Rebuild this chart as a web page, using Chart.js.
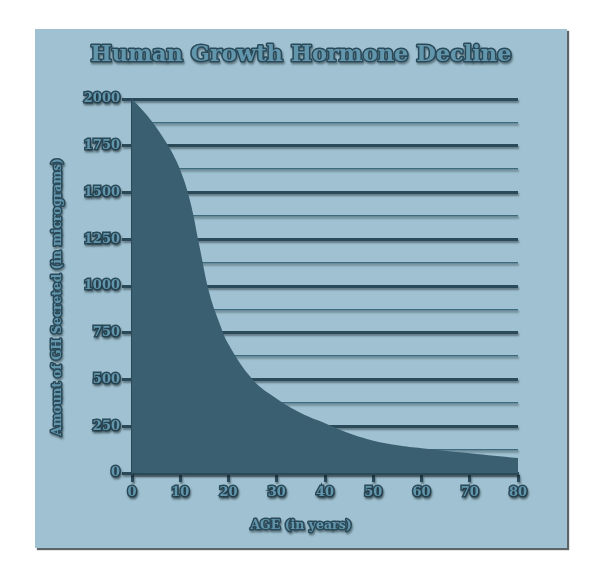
<!DOCTYPE html>
<html>
<head>
<meta charset="utf-8">
<script src="https://cdn.jsdelivr.net/npm/chart.js@4.4.0/dist/chart.umd.min.js"></script>
<style>
  html, body { margin: 0; padding: 0; background: #fff; }
  .panel {
    position: absolute; left: 35px; top: 29px;
    width: 532px; height: 519px;
    background: #9fc1d1;
    box-shadow: 2px 2px 1px #5c6468;
  }
  .panel canvas { display: block; }
</style>
</head>
<body>
<div class="panel"><canvas id="chart" width="532" height="519"></canvas></div>
<script>
// values
const chartTitle = 'Human Growth Hormone Decline';
const xTitle = 'AGE (in years)';
const yTitle = 'Amount of GH Secreted (in micrograms)';
const ages = [0, 2, 4, 6, 8, 10, 12, 14, 16, 18, 20, 25, 30, 35, 40, 45, 50, 55, 60, 70, 80];
const ghValues = [2000, 1945, 1884, 1812, 1728, 1620, 1458, 1210, 965, 810, 688, 500, 397, 321, 266, 212, 173, 149, 133, 106, 80];
const xTicks = [0, 80, 10];       // min, max, step
const yTicks = [0, 2000, 125];    // min, max, step (labels every 250)

const dark = '#2b4a59';
const thin = '#3d6a7d';
const fillCol = '#3a5f71';
const textCol = '#6296ad';
const shadow = 'rgba(20,30,35,0.45)';

function setShadow(ctx, on) {
    ctx.shadowColor = on ? shadow : 'transparent';
    ctx.shadowOffsetX = on ? 1 : 0;
    ctx.shadowOffsetY = on ? 2 : 0;
    ctx.shadowBlur = on ? 2 : 0;
}

function embossText(ctx, text, x, y, size, rot) {
    ctx.save();
    ctx.translate(x, y);
    if (rot) ctx.rotate(rot);
    ctx.font = `bold ${size}px "DejaVu Serif"`;
    ctx.textAlign = 'center';
    ctx.textBaseline = 'middle';
    ctx.lineJoin = 'round';
    setShadow(ctx, true);
    ctx.lineWidth = 3;
    ctx.strokeStyle = dark;
    ctx.strokeText(text, 0, 0);
    setShadow(ctx, false);
    ctx.fillStyle = textCol;
    ctx.fillText(text, 0, 0);
    ctx.restore();
}

const embossPlugin = {
    id: 'emboss',
    beforeDraw: (chart) => {
        chart.ctx.save();
        setShadow(chart.ctx, true);
    },
    beforeDatasetsDraw: (chart) => { setShadow(chart.ctx, false); },
    afterDatasetsDraw: (chart) => { setShadow(chart.ctx, true); },
    afterDraw: (chart) => {
        const ctx = chart.ctx;
        ctx.restore();
        embossText(ctx, chartTitle, 266, 26, 22.5, 0);
        embossText(ctx, yTitle, 23, 268, 12.2, -Math.PI / 2);
        embossText(ctx, xTitle, 266, 497, 12.5, 0);
    }
};

const points = ages.map((a, i) => ({ x: a, y: ghValues[i] }));
const isMajor = (v) => v % 250 === 0;

const ctx = document.getElementById('chart').getContext('2d');
new Chart(ctx, {
    type: 'line',
    data: {
        datasets: [{
            data: points,
            fill: 'origin',
            backgroundColor: fillCol,
            borderWidth: 0,
            pointRadius: 0,
            tension: 0.4
        }]
    },
    options: {
        responsive: false,
        animation: false,
        layout: { padding: { top: 70, right: 49, left: 0, bottom: 0 } },
        plugins: { legend: { display: false }, tooltip: { enabled: false } },
        scales: {
            x: {
                type: 'linear',
                min: xTicks[0], max: xTicks[1],
                afterFit: (scale) => { scale.height = 75; },
                ticks: {
                    stepSize: xTicks[2],
                    padding: 3,
                    color: textCol,
                    textStrokeColor: dark,
                    textStrokeWidth: 3,
                    font: { family: 'DejaVu Serif', weight: 'bold', size: 13 }
                },
                grid: {
                    drawOnChartArea: false,
                    drawTicks: true,
                    tickLength: 9,
                    tickWidth: 3,
                    tickColor: dark
                },
                border: { display: true, color: dark, width: 3 }
            },
            y: {
                min: yTicks[0], max: yTicks[1],
                afterFit: (scale) => { scale.width = 97; },
                ticks: {
                    stepSize: yTicks[2],
                    padding: 2,
                    color: textCol,
                    textStrokeColor: dark,
                    textStrokeWidth: 3,
                    font: { family: 'DejaVu Serif', weight: 'bold', size: 13 },
                    callback: (v) => isMajor(v) ? v : ''
                },
                grid: {
                    drawTicks: true,
                    tickLength: 10,
                    color: (c) => isMajor(c.tick.value) ? dark : thin,
                    lineWidth: (c) => isMajor(c.tick.value) ? 3 : 1.5,
                    tickColor: (c) => isMajor(c.tick.value) ? dark : 'transparent',
                    tickWidth: 3
                },
                border: { display: true, color: dark, width: 2 }
            }
        }
    },
    plugins: [embossPlugin]
});
</script>
</body>
</html>
